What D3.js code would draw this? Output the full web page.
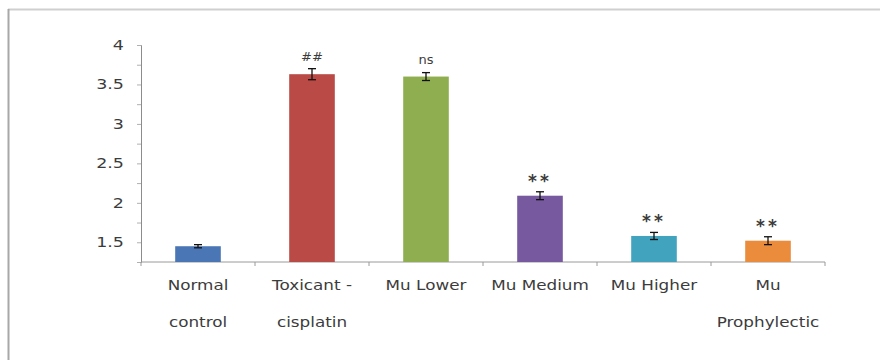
<!DOCTYPE html>
<html>
<head>
<meta charset="utf-8">
<script src="https://cdn.jsdelivr.net/npm/d3@7"></script>
<style>
  html, body { margin: 0; padding: 0; background: #fff; }
  svg { display: block; }
  text { font-family: "DejaVu Sans", sans-serif; fill: #3c3c3c; }
</style>
</head>
<body>
<svg id="chart" width="880" height="360"></svg>
<script>
// Groups along the x axis (wrapped label lines per group)
const categories = ["Normal control", "Toxicant - cisplatin", "Mu Lower", "Mu Medium", "Mu Higher", "Mu Prophylectic"];
const categoryLines = [["Normal", "control"], ["Toxicant -", "cisplatin"], ["Mu Lower"], ["Mu Medium"], ["Mu Higher"], ["Mu", "Prophylectic"]];
// Mean values and their error (± SEM)
const values = [1.45, 3.63, 3.60, 2.09, 1.58, 1.52];
const errors = [0.02, 0.07, 0.05, 0.05, 0.045, 0.05];
// Significance marks printed above each bar
const marks = ["", "##", "ns", "**", "**", "**"];
// Y axis tick labels
const yTicks = [1.5, 2, 2.5, 3, 3.5, 4];
const yMinorTicks = [1.25, 1.5, 1.75, 2, 2.25, 2.5, 2.75, 3, 3.25, 3.5, 3.75, 4];
const barColors = ["#4a76b5", "#b94a46", "#8fae4f", "#76599f", "#41a3bd", "#ea8c3c"];

const svg = d3.select("#chart");
const W = 880, H = 360;
const margin = { top: 45, right: 55, bottom: 98, left: 141 };

// Outer frame: left and top edges
svg.append("line").attr("x1", 8).attr("x2", W).attr("y1", 9.5).attr("y2", 9.5)
  .attr("stroke", "#cfcfcf").attr("stroke-width", 2);
svg.append("line").attr("x1", 8.5).attr("x2", 8.5).attr("y1", 9).attr("y2", H)
  .attr("stroke", "#a8a8a8").attr("stroke-width", 2);

const x = d3.scaleBand().domain(categories).range([margin.left, W - margin.right]).padding(0);
const y = d3.scaleLinear().domain([1.25, 4]).range([H - margin.bottom, margin.top]);
const barW = x.bandwidth() * 0.4;

// Y axis: minor tick marks, then labels
const yMinor = svg.append("g").attr("transform", `translate(${margin.left},0)`)
  .call(d3.axisLeft(y).tickValues(yMinorTicks).tickSize(4).tickFormat(""));
yMinor.select(".domain").attr("stroke", "#8c8c8c");
yMinor.selectAll(".tick line").attr("stroke", "#b0b0b0");

const yAxis = svg.append("g").attr("transform", `translate(${margin.left},0)`)
  .call(d3.axisLeft(y).tickValues(yTicks).tickSize(0).tickFormat(d3.format("")));
yAxis.select(".domain").remove();
yAxis.selectAll(".tick text")
  .attr("x", 0)
  .attr("transform", "translate(-17,0) scale(1.25,1)")
  .style("font-size", "14px")
  .attr("fill", "#3c3c3c");

// X axis with group boundary ticks
const xAxis = svg.append("g").attr("transform", `translate(0,${y(1.25)})`);
xAxis.append("line").attr("x1", margin.left).attr("x2", W - margin.right)
  .attr("stroke", "#9a9a9a");
const bounds = categories.map(c => x(c)).concat([x(categories[categories.length - 1]) + x.bandwidth()]);
xAxis.selectAll("line.b").data(bounds).join("line").attr("class", "b")
  .attr("x1", d => d).attr("x2", d => d).attr("y1", 0).attr("y2", 4)
  .attr("stroke", "#9a9a9a");

// Category labels
const lab = svg.append("g").selectAll("g").data(categories).join("g")
  .attr("transform", d => `translate(${x(d) + x.bandwidth() / 2},${y(1.25) + 28}) scale(1.2,1)`);
lab.each(function (d, i) {
  d3.select(this).selectAll("text").data(categoryLines[i]).join("text")
    .attr("text-anchor", "middle")
    .attr("y", (t, j) => j * 37)
    .style("font-size", "14px")
    .text(t => t);
});

// Bars
svg.append("g").selectAll("rect").data(categories).join("rect")
  .attr("x", d => x(d) + (x.bandwidth() - barW) / 2)
  .attr("width", barW)
  .attr("y", (d, i) => y(values[i]))
  .attr("height", (d, i) => y(1.25) - y(values[i]))
  .attr("fill", (d, i) => barColors[i]);

// Error bars
const eb = svg.append("g").attr("stroke", "#111").attr("stroke-width", 1.3);
categories.forEach((c, i) => {
  const cx = x(c) + x.bandwidth() / 2;
  const hi = y(values[i] + errors[i]), lo = y(values[i] - errors[i]);
  eb.append("line").attr("x1", cx).attr("x2", cx).attr("y1", hi).attr("y2", lo);
  eb.append("line").attr("x1", cx - 4).attr("x2", cx + 4).attr("y1", hi).attr("y2", hi);
  eb.append("line").attr("x1", cx - 4).attr("x2", cx + 4).attr("y1", lo).attr("y2", lo);
});

// Significance marks
svg.append("g").selectAll("text").data(categories).join("text")
  .attr("x", d => x(d) + x.bandwidth() / 2)
  .attr("y", (d, i) => y(values[i]) - (marks[i] === "**" ? 9 : 13))
  .attr("text-anchor", "middle")
  .style("font-size", (d, i) => marks[i] === "**" ? "17px" : "13px")
  .style("font-weight", (d, i) => marks[i] === "**" ? "bold" : "normal")
  .style("font-style", (d, i) => marks[i] === "##" ? "italic" : "normal")
  .style("letter-spacing", (d, i) => marks[i] === "**" ? "3px" : "0px")
  .attr("fill", "#222")
  .text((d, i) => marks[i]);
</script>
</body>
</html>
